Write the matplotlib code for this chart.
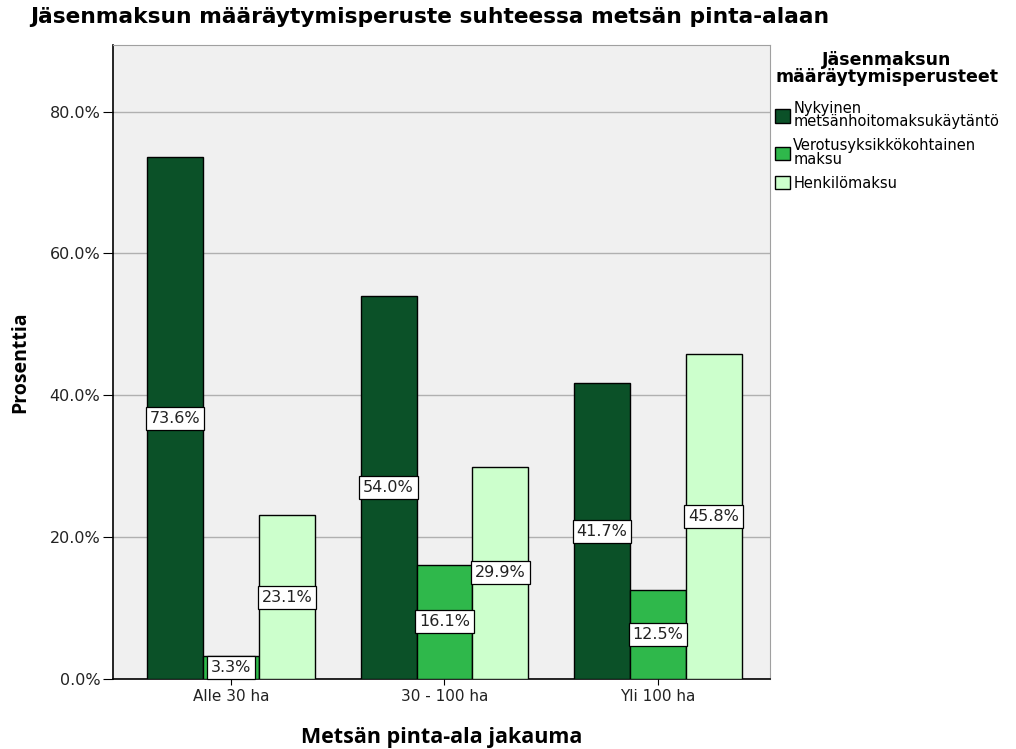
import matplotlib
matplotlib.use("Agg")
import matplotlib.pyplot as plt
import numpy as np

plt.rcParams['font.family'] = ['DejaVu Sans']

categories = ["Alle 30 ha", "30 - 100 ha", "Yli 100 ha"]
series_names = ["Nykyinen\nmetsänhoitomaksukäytäntö", "Verotusyksikkökohtainen\nmaksu", "Henkilömaksu"]
nykyinen = [73.6, 54.0, 41.7]
verotus = [3.3, 16.1, 12.5]
henkilo = [23.1, 29.9, 45.8]
colors = ["#0b5128", "#2fb84b", "#ccffcc"]

fig = plt.figure(figsize=(10.16, 7.49), dpi=100)
ax = fig.add_axes([113/1016, 1-679/749, (770-113)/1016, (679-45)/749])
ax.set_facecolor("#f0f0f0")

x = np.arange(len(categories))
w = 0.262
series = [nykyinen, verotus, henkilo]
handles = []
for i, (vals, c, name) in enumerate(zip(series, colors, series_names)):
    pos = x + (i - 1) * w
    bars = ax.bar(pos, vals, width=w, color=c, edgecolor="black", linewidth=1.0, label=name, zorder=3)
    handles.append(bars)
    for p, v in zip(pos, vals):
        ypos = max(v / 2, 1.6)
        ax.text(p, ypos, f"{v:.1f}%", ha="center", va="center", fontsize=11.5, zorder=5,
                color="#222222",
                bbox=dict(boxstyle="square,pad=0.25", facecolor="white", edgecolor="black", linewidth=0.9))

ax.set_xlim(-0.553, 0.525 + 2)
ax.set_ylim(0, 89.4)
ax.set_yticks([0, 20, 40, 60, 80])
ax.set_yticklabels([f"{t:.1f}%" for t in [0, 20, 40, 60, 80]], fontsize=11.5, color="#222222")
ax.set_xticks(x)
ax.set_xticklabels(categories, fontsize=11, color="#222222")
ax.yaxis.grid(True, color="#b0b0b0", linewidth=1, zorder=0)
ax.set_axisbelow(True)
for s in ["top", "right"]:
    ax.spines[s].set_color("#a0a0a0")
for s in ["left", "bottom"]:
    ax.spines[s].set_color("black")
    ax.spines[s].set_linewidth(1.2)
ax.tick_params(axis="y", length=7.5, color="black", pad=1.5)
ax.tick_params(axis="x", length=4, color="black", pad=3)

ax.set_ylabel("Prosenttia", fontsize=14, fontweight="bold", family="Open Sans", va="center")
ax.yaxis.set_label_coords((20 - 113) / 657, 0.5)
ax.set_xlabel("Metsän pinta-ala jakauma", fontsize=15.5, fontweight="bold", family="Open Sans", va="center")
ax.xaxis.set_label_coords(0.5, (679 - 737) / 634)

fig.text(30/1016, 1-17/749, "Jäsenmaksun määräytymisperuste suhteessa metsän pinta-alaan",
         fontsize=15.7, fontweight="bold", ha="left", va="center")

leg = fig.legend(handles=handles, labels=series_names, loc="upper left",
                 bbox_to_anchor=(772/1016, 1-48/749), frameon=False, fontsize=10.5,
                 title="Jäsenmaksun\nmääräytymisperusteet",
                 title_fontproperties={"weight": "bold", "size": 12.5},
                 alignment="center",
                 handlelength=1.05, handleheight=1.05, handletextpad=0.2,
                 labelspacing=0.6, borderaxespad=0, borderpad=0.2)
for t in leg.get_texts():
    t.set_linespacing(0.9)
leg.get_title().set_linespacing(0.95)
leg.get_title().set_multialignment("center")
leg._legend_box.sep += 4

fig.savefig("out.png", dpi=100)
